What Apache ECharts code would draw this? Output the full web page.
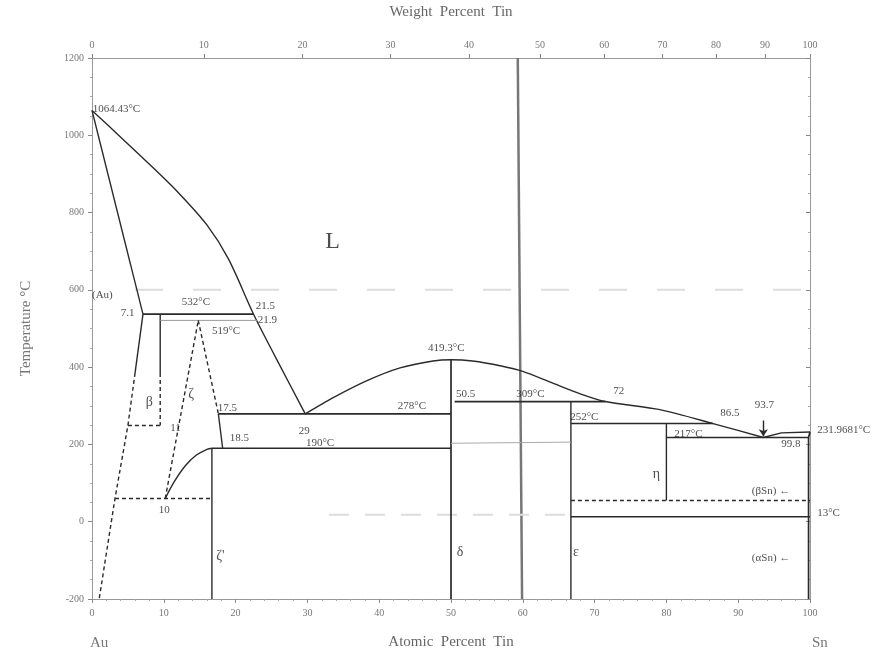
<!DOCTYPE html>
<html>
<head>
<meta charset="utf-8">
<script src="https://cdn.jsdelivr.net/npm/echarts@6/dist/echarts.min.js"></script>
<style>
  html, body { margin: 0; padding: 0; background: #fff; }
  #chart { width: 894px; height: 655px; }
</style>
</head>
<body>
<div id="chart"></div>
<script>
// Au-Sn phase diagram, x = atomic percent Sn, y = temperature (°C)
const weightTicks = [0, 10, 20, 30, 40, 50, 60, 70, 80, 90, 100];
const MASS_AU = 196.97, MASS_SN = 118.71;

// phase boundaries [at.% Sn, °C]
const liquidusAu = [[0, 1064.43], [4, 995], [8, 925], [12, 852], [16, 768], [19, 680], [22.5, 537], [25.5, 428], [29.7, 279]];
const solidusAu = [[0, 1064.43], [7.1, 537]];
const solvusAu = [[7.1, 537], [6.0, 385]];
const solvusAuDash = [[6.0, 385], [5.0, 249], [3.2, 60], [1.0, -200]];
const peritectic532 = [[7.1, 537], [22.5, 537]];
const betaSolid = [[9.5, 537], [9.5, 385]];
const betaDash = [[9.5, 385], [9.5, 249]];
const line249 = [[5.0, 249], [9.5, 249]];
const line519 = [[9.5, 521], [23.0, 521]];
const zetaLeft = [[10.2, 60], [14.8, 521]];
const zetaRight = [[14.8, 521], [17.6, 279]];
const zetaRightSolid = [[17.6, 279], [18.2, 190]];
const zetaPrimeCurve = [[10.2, 60], [11.5, 105], [13, 145], [14.5, 172], [16, 187], [16.7, 190]];
const line60 = [[3.2, 60], [16.7, 60]];
const zetaPrime = [[16.7, 190], [16.7, -200]];
const line190 = [[16.7, 190], [50, 190]];
const eutectic278 = [[17.6, 279], [50, 279]];
const liquidusDelta = [[29.7, 279], [33.6, 321], [38.3, 365], [42.9, 398], [47.5, 416], [50, 419.3], [53, 416], [57, 403], [60, 389], [64, 360], [68, 331], [71.5, 311], [79.1, 290], [86.5, 254], [93.5, 218]];
const delta = [[50, 419.3], [50, -200]];
const line309 = [[50.5, 311], [71.5, 311]];
const epsilon = [[66.7, 311], [66.7, -200]];
const line252 = [[66.7, 254], [86.5, 254]];
const eta = [[80, 254], [80, 55]];
const eutectic217 = [[80, 218], [99.8, 218]];
const liquidusSn = [[93.5, 218], [96, 230], [100, 231.97]];
const snEdge = [[100, 231.97], [99.8, 218], [99.8, -200]];
const line55 = [[66.7, 55], [100, 55]];
const line13 = [[66.7, 13], [100, 13]];
const faint203 = [[50, 203], [66.7, 206]];
const foldLine = [[59.3, 1200], [59.9, -200]];
const ghost600 = [[6, 600], [100, 600]];
const ghost18 = [[33, 18], [67, 18]];
const arrow937 = [[93.5, 262], [93.5, 221]];

// annotations [at.% Sn, °C, text] (left edge of text)
const labels = [
  [0.1, 1069, '1064.43°C'], [32.5, 724, 'L'], [0, 586, '(Au)'], [4.0, 539, '7.1'],
  [12.5, 568, '532°C'], [22.8, 557, '21.5'], [23.1, 521, '21.9'], [16.7, 493, '519°C'],
  [7.5, 308, 'β'], [13.4, 329, 'ζ'], [10.9, 241, '11'], [17.5, 295, '17.5'],
  [28.8, 234, '29'], [19.2, 216, '18.5'], [9.3, 31, '10'], [17.3, -90, "ζ'"],
  [46.8, 450, '419.3°C'], [42.6, 298, '278°C'], [29.8, 203, '190°C'], [50.7, 329, '50.5'],
  [59.1, 329, '309°C'], [72.6, 339, '72'], [66.6, 270, '252°C'], [81.1, 226, '217°C'],
  [87.5, 280, '86.5'], [92.3, 303, '93.7'], [101, 236, '231.9681°C'], [96.0, 200, '99.8'],
  [78.1, 123, 'η'], [91.9, 80, '(βSn) ←'], [101, 23, '13°C'], [91.9, -95, '(αSn) ←'],
  [50.8, -80, 'δ'], [67.0, -80, 'ε']
];

const FONT = '"Liberation Serif","DejaVu Serif",serif';
const INK = '#2a2a2a';
const bigText = { 'L': 24, 'β': 14, 'ζ': 14, "ζ'": 14, 'η': 14, 'δ': 14, 'ε': 14 };

function wtToAt(w) {
  if (w >= 100) return 100;
  const a = w / MASS_SN, b = (100 - w) / MASS_AU;
  return 100 * a / (a + b);
}
const weightPos = weightTicks.map(wtToAt);

function line(data, o = {}) {
  return {
    type: 'line', data, symbol: 'none', showSymbol: false, silent: true,
    smooth: o.smooth || false, z: o.z || 3,
    lineStyle: { color: o.color || INK, width: o.width || 1.4, type: o.dash || 'solid' }
  };
}
const D = [4, 3];

const series = [
  line(foldLine, { color: '#777', width: 2.5, z: 1 }),
  line(ghost600, { color: '#ddd', width: 2, dash: [28, 30], z: 1 }),
  line(ghost18, { color: '#ddd', width: 2, dash: [20, 16], z: 1 }),
  line(liquidusAu, { smooth: 0.3 }),
  line(solidusAu),
  line(solvusAu),
  line(solvusAuDash, { dash: D }),
  line(peritectic532, { width: 1.7 }),
  line(betaSolid),
  line(betaDash, { dash: D }),
  line(line249, { dash: D }),
  line(line519, { color: '#999', width: 1 }),
  line(zetaLeft, { dash: D }),
  line(zetaRight, { dash: D }),
  line(zetaRightSolid),
  line(zetaPrimeCurve, { smooth: 0.4 }),
  line(line60, { dash: D }),
  line(zetaPrime),
  line(line190),
  line(eutectic278, { width: 1.7 }),
  line(liquidusDelta, { smooth: 0.25 }),
  line(delta, { width: 1.7 }),
  line(line309, { width: 1.7 }),
  line(epsilon),
  line(line252),
  line(eta),
  line(eutectic217),
  line(liquidusSn),
  line(snEdge, { width: 1.7 }),
  line(line55, { dash: D }),
  line(line13),
  line(faint203, { color: '#aaa', width: 1 }),
  {
    type: 'line', data: [], silent: true,
    markLine: {
      silent: true, symbol: ['none', 'arrow'], symbolSize: 7, label: { show: false },
      lineStyle: { color: INK, width: 1.4, type: 'solid' },
      data: [[{ coord: arrow937[0] }, { coord: arrow937[1] }]]
    }
  },
  {
    type: 'scatter', symbolSize: 0, silent: true, clip: false, z: 5,
    data: labels.map(l => ({
      value: [l[0], l[1]],
      label: { formatter: l[2], fontSize: bigText[l[2]] || 11 }
    })),
    label: { show: true, position: 'right', distance: 0, color: '#222', fontFamily: FONT, fontSize: 11 }
  }
];

const axisCommon = {
  type: 'value', min: 0, max: 100,
  axisLine: { show: true, onZero: false, lineStyle: { color: '#999', width: 1 } },
  splitLine: { show: false },
  axisLabel: { color: '#777', fontFamily: FONT, fontSize: 10 },
  nameTextStyle: { color: '#666', fontFamily: FONT, fontSize: 15 }
};

const chart = echarts.init(document.getElementById('chart'), null, { renderer: 'canvas' });
chart.setOption({
  animation: false,
  backgroundColor: '#fff',
  grid: { left: 92, right: 84, top: 58, bottom: 52 },
  xAxis: [
    Object.assign({}, axisCommon, {
      position: 'bottom', interval: 10,
      name: 'Atomic  Percent  Tin', nameLocation: 'middle', nameGap: 36,
      axisTick: { length: 4, lineStyle: { color: '#888' } },
      minorTick: { show: true, splitNumber: 5, length: 2, lineStyle: { color: '#aaa' } },
      axisLabel: Object.assign({}, axisCommon.axisLabel, { margin: 9 })
    }),
    Object.assign({}, axisCommon, {
      position: 'top',
      name: 'Weight  Percent  Tin', nameLocation: 'middle', nameGap: 38,
      axisTick: { show: true, customValues: weightPos, length: 4, lineStyle: { color: '#888' } },
      axisLabel: Object.assign({}, axisCommon.axisLabel, {
        customValues: weightPos, margin: 8,
        formatter: v => {
          let best = 0;
          weightPos.forEach((p, i) => { if (Math.abs(p - v) < Math.abs(weightPos[best] - v)) best = i; });
          return String(weightTicks[best]);
        }
      })
    })
  ],
  yAxis: [
    {
      type: 'value', min: -200, max: 1200, interval: 200, position: 'left',
      name: 'Temperature °C', nameLocation: 'middle', nameGap: 58, nameRotate: 90,
      nameTextStyle: { color: '#777', fontFamily: FONT, fontSize: 15 },
      axisLine: { show: true, onZero: false, lineStyle: { color: '#999' } },
      axisTick: { length: 4, lineStyle: { color: '#888' } },
      minorTick: { show: true, splitNumber: 4, length: 2, lineStyle: { color: '#aaa' } },
      splitLine: { show: false },
      axisLabel: { color: '#777', fontFamily: FONT, fontSize: 10, margin: 8, formatter: v => String(v) }
    },
    {
      type: 'value', min: -200, max: 1200, interval: 200, position: 'right',
      axisLine: { show: true, onZero: false, lineStyle: { color: '#999' } },
      axisTick: { length: 4, inside: true, lineStyle: { color: '#888' } },
      minorTick: { show: true, splitNumber: 4, length: 2, lineStyle: { color: '#aaa' } },
      splitLine: { show: false },
      axisLabel: { show: false }
    }
  ],
  graphic: [
    { type: 'text', left: 90, top: 636, style: { text: 'Au', fill: '#777', font: '15px ' + FONT } },
    { type: 'text', left: 812, top: 636, style: { text: 'Sn', fill: '#777', font: '15px ' + FONT } }
  ],
  series: series
});
</script>
</body>
</html>
